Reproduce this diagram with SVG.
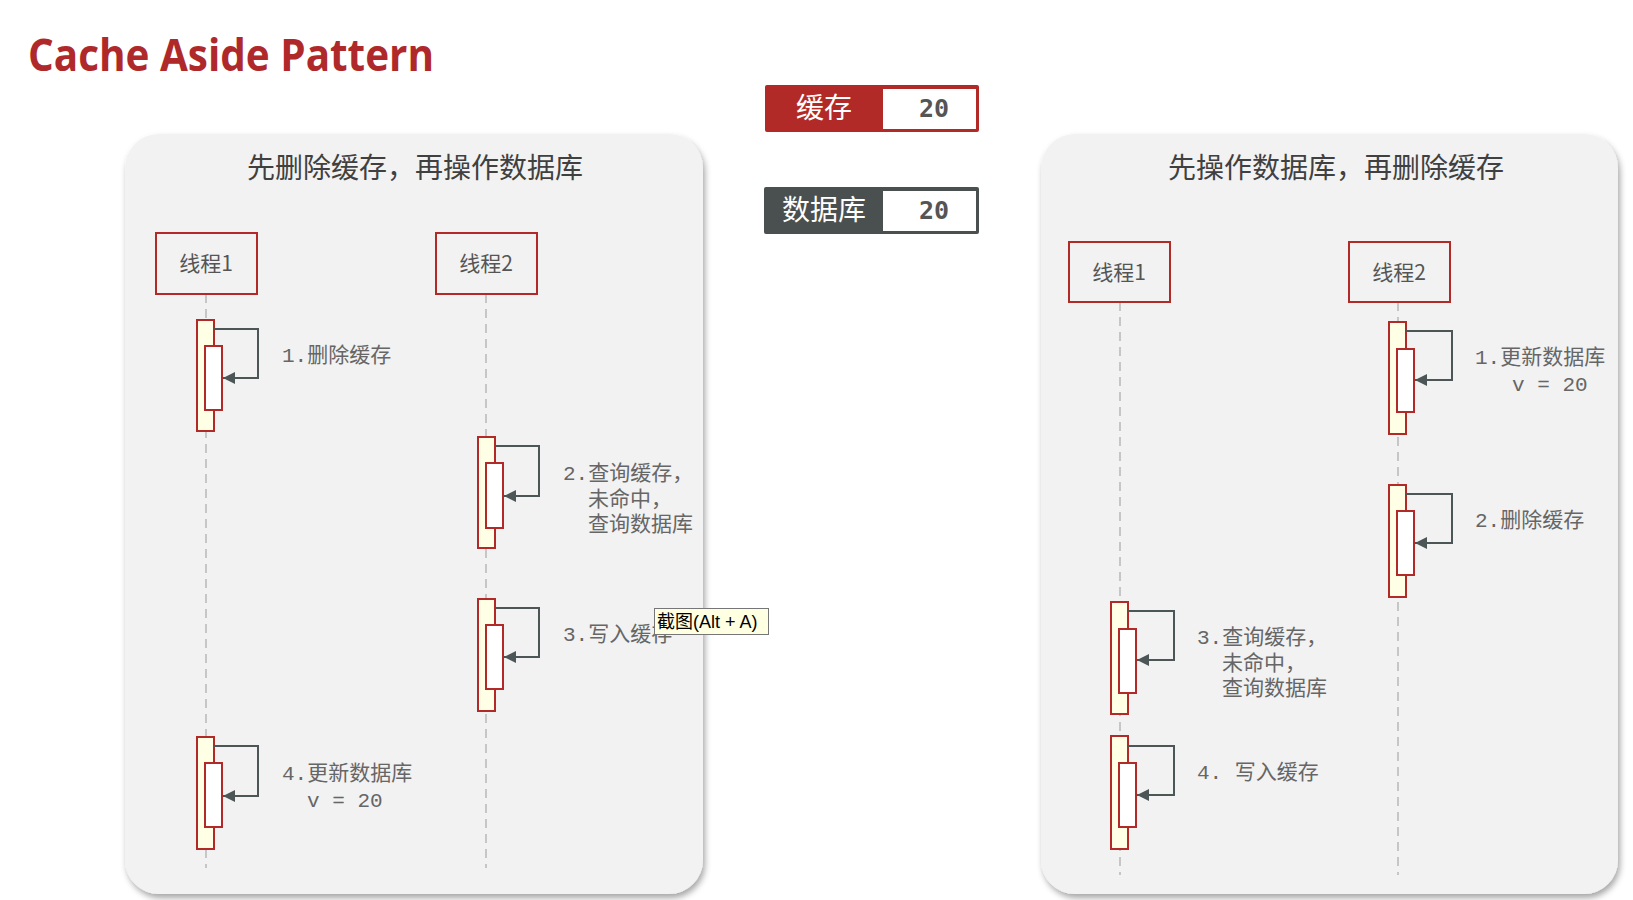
<svg xmlns="http://www.w3.org/2000/svg" width="1633" height="900" viewBox="0 0 1633 900">
<defs>
<filter id="sh" x="-5%" y="-5%" width="112%" height="112%">
<feDropShadow dx="2" dy="4" stdDeviation="3" flood-color="#000" flood-opacity="0.35"/>
</filter>
<marker id="ah" viewBox="0 0 10 10" refX="10" refY="5" markerWidth="12" markerHeight="12" markerUnits="userSpaceOnUse" orient="auto">
<path d="M0,0 L10,5 L0,10 z" fill="#4D5656"/>
</marker>
<style>
.panel{fill:#F2F2F2;filter:url(#sh)}
.ptitle{font-family:"Noto Sans CJK SC",sans-serif;font-size:28px;fill:#404040;text-anchor:middle}
.tbox{fill:none;stroke:#B22A28;stroke-width:2}
.ttxt{font-family:"Noto Sans CJK SC",sans-serif;font-size:21px;fill:#555;text-anchor:middle}
.life{stroke:#B8B8B8;stroke-width:1.5;stroke-dasharray:9 6;fill:none}
.act{fill:#FFFFE6;stroke:#B22A28;stroke-width:2}
.inn{fill:#FFFFFF;stroke:#B22A28;stroke-width:2}
.msg{fill:none;stroke:#4D5656;stroke-width:2;marker-end:url(#ah)}
.lbl{font-family:"Liberation Mono","Noto Sans CJK SC",monospace;font-size:21px;fill:#666}
.val{font-family:"DejaVu Sans Mono",monospace;font-weight:bold;font-size:25px;fill:#555;text-anchor:middle}
.key{font-family:"Noto Sans CJK SC",sans-serif;font-size:28px;fill:#FFF;text-anchor:middle}
</style>
</defs>
<rect width="1633" height="900" fill="#FFFFFF"/>
<text x="28" y="71" font-family="Open Sans, Lato, sans-serif" font-weight="bold" font-size="44" fill="#B0292A" textLength="406" lengthAdjust="spacingAndGlyphs">Cache Aside Pattern</text>

<g id="legend-cache">
<rect x="765" y="85" width="214" height="47" rx="2" fill="#B22A28"/>
<rect x="883" y="89" width="93" height="40" fill="#FFFFFF"/>
<text class="key" x="824" y="118">缓存</text>
<text class="val" x="934" y="117">20</text>
</g>
<g id="legend-db">
<rect x="764" y="187" width="215" height="47" rx="2" fill="#4A5050"/>
<rect x="883" y="191" width="93" height="40" fill="#FFFFFF"/>
<text class="key" x="824" y="220">数据库</text>
<text class="val" x="934" y="219">20</text>
</g>

<g id="panel-left">
<rect class="panel" x="125" y="134" width="578" height="760" rx="34"/>
<text class="ptitle" x="415" y="178">先删除缓存，再操作数据库</text>
</g>
<g id="panel-right">
<rect class="panel" x="1041" y="134" width="577" height="760" rx="34"/>
<text class="ptitle" x="1336" y="178">先操作数据库，再删除缓存</text>
</g>

<g id="lifelines">
<line class="life" x1="206" y1="294" x2="206" y2="868"/>
<line class="life" x1="486" y1="294" x2="486" y2="868"/>
<line class="life" x1="1120" y1="302" x2="1120" y2="875"/>
<line class="life" x1="1398" y1="302" x2="1398" y2="875"/>
</g>

<g id="L-thread1"><rect class="tbox" x="156" y="233" width="101" height="61"/><text class="ttxt" x="206" y="271">线程1</text></g>
<g id="L-thread2"><rect class="tbox" x="436" y="233" width="101" height="61"/><text class="ttxt" x="486" y="271">线程2</text></g>
<g id="R-thread1"><rect class="tbox" x="1069" y="242" width="101" height="60"/><text class="ttxt" x="1119" y="280">线程1</text></g>
<g id="R-thread2"><rect class="tbox" x="1349" y="242" width="101" height="60"/><text class="ttxt" x="1399" y="280">线程2</text></g>

<g id="L-act1"><rect class="act" x="197" y="320" width="17" height="111"/><rect class="inn" x="205" y="346" width="17" height="64"/></g>
<g id="L-act2"><rect class="act" x="478" y="437" width="17" height="111"/><rect class="inn" x="486" y="463" width="17" height="65"/></g>
<g id="L-act3"><rect class="act" x="478" y="599" width="17" height="112"/><rect class="inn" x="486" y="625" width="17" height="64"/></g>
<g id="L-act4"><rect class="act" x="197" y="737" width="17" height="112"/><rect class="inn" x="205" y="763" width="17" height="64"/></g>
<g id="R-act1"><rect class="act" x="1389" y="322" width="17" height="112"/><rect class="inn" x="1397" y="349" width="17" height="63"/></g>
<g id="R-act2"><rect class="act" x="1389" y="485" width="17" height="112"/><rect class="inn" x="1397" y="511" width="17" height="64"/></g>
<g id="R-act3"><rect class="act" x="1111" y="602" width="17" height="112"/><rect class="inn" x="1119" y="629" width="17" height="64"/></g>
<g id="R-act4"><rect class="act" x="1111" y="736" width="17" height="113"/><rect class="inn" x="1119" y="763" width="17" height="64"/></g>

<g id="connectors">
<path class="msg" d="M214,329 H258 V378 H223"/>
<path class="msg" d="M495,446 H539 V496 H504"/>
<path class="msg" d="M495,608 H539 V657 H504"/>
<path class="msg" d="M214,746 H258 V796 H223"/>
<path class="msg" d="M1406,331 H1452 V380 H1415"/>
<path class="msg" d="M1406,494 H1452 V543 H1415"/>
<path class="msg" d="M1128,611 H1174 V660 H1137"/>
<path class="msg" d="M1128,746 H1174 V795 H1137"/>
</g>

<g id="labels">
<text class="lbl" x="282" y="362">1.删除缓存</text>
<text class="lbl" x="563" y="480">2.查询缓存，</text>
<text class="lbl" x="588" y="506">未命中，</text>
<text class="lbl" x="588" y="531">查询数据库</text>
<text class="lbl" x="563" y="641">3.写入缓存</text>
<text class="lbl" x="282" y="780">4.更新数据库</text>
<text class="lbl" x="307" y="807">v = 20</text>
<text class="lbl" x="1475" y="364">1.更新数据库</text>
<text class="lbl" x="1512" y="391">v = 20</text>
<text class="lbl" x="1475" y="527">2.删除缓存</text>
<text class="lbl" x="1197" y="644">3.查询缓存，</text>
<text class="lbl" x="1222" y="670">未命中，</text>
<text class="lbl" x="1222" y="695">查询数据库</text>
<text class="lbl" x="1197" y="779">4. 写入缓存</text>
</g>

<g id="tooltip">
<rect x="654.5" y="608.5" width="114" height="26" fill="#FFFFE1" stroke="#767676" stroke-width="1"/>
<text x="657" y="628" font-family="Liberation Sans, Noto Sans CJK SC, sans-serif" font-size="18" fill="#000">截图(Alt + A)</text>
</g>
</svg>
